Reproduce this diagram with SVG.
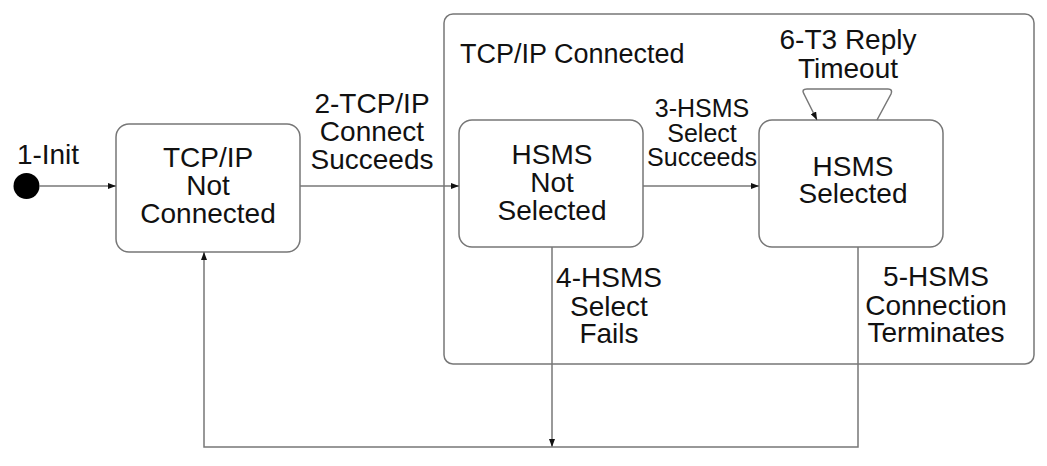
<svg xmlns="http://www.w3.org/2000/svg" width="1047" height="466" viewBox="0 0 1047 466">
<defs>
<marker id="ah" viewBox="0 0 8 6" refX="8" refY="3" markerWidth="8" markerHeight="6" markerUnits="userSpaceOnUse" orient="auto">
<path d="M0,0 L8,3 L0,6 Z" fill="#111"/>
</marker>
</defs>
<style>
.st{fill:#fff;stroke:#777;stroke-width:1.5}
.t{font-family:"Liberation Sans",Arial,sans-serif;font-size:28px;fill:#111;text-anchor:middle}
.s{font-size:25px}
.c{fill:none;stroke:#777;stroke-width:1.5}
</style>
<rect width="1047" height="466" fill="#fff"/>
<g id="composite-tcpip-connected">
<rect class="st" x="444" y="14" width="590" height="350" rx="9"/>
<text class="t" x="460" y="63" style="text-anchor:start;font-size:27px">TCP/IP Connected</text>
</g>
<g id="initial">
<circle cx="26.5" cy="186" r="13" fill="#000"/>
</g>
<g id="tcpip-not-connected">
<rect class="st" x="116" y="124" width="184" height="128" rx="13"/>
<text class="t" x="208" y="167">TCP/IP</text>
<text class="t" x="208" y="195">Not</text>
<text class="t" x="208" y="223">Connected</text>
</g>
<g id="hsms-not-selected">
<rect class="st" x="459" y="120" width="184" height="127" rx="13"/>
<text class="t" x="552" y="164">HSMS</text>
<text class="t" x="552" y="192">Not</text>
<text class="t" x="552" y="220">Selected</text>
</g>
<g id="hsms-selected">
<rect class="st" x="759" y="120" width="184" height="127" rx="13"/>
<text class="t" x="853" y="176">HSMS</text>
<text class="t" x="853" y="203">Selected</text>
</g>
<g id="connectors">
<line class="c" x1="39" y1="186" x2="116" y2="186" marker-end="url(#ah)"/>
<line class="c" x1="300" y1="186" x2="459" y2="186" marker-end="url(#ah)"/>
<line class="c" x1="643" y1="186" x2="759" y2="186" marker-end="url(#ah)"/>
<path class="c" d="M877,120 L891,94 Q893,89 888,89 L807,89 Q801,89 804,94 L817,120" marker-end="url(#ah)"/>
<line class="c" x1="552" y1="247" x2="552" y2="447" marker-end="url(#ah)"/>
<path class="c" d="M858,247 L858,447 L204,447 L204,252" marker-end="url(#ah)"/>
</g>
<g id="labels">
<text class="t" x="48" y="164">1-Init</text>
<text class="t" x="372" y="113">2-TCP/IP</text>
<text class="t" x="372" y="141">Connect</text>
<text class="t" x="372" y="169">Succeeds</text>
<text class="t s" x="702" y="117">3-HSMS</text>
<text class="t s" x="702" y="142">Select</text>
<text class="t s" x="702" y="166">Succeeds</text>
<text class="t" x="609" y="287">4-HSMS</text>
<text class="t" x="609" y="316">Select</text>
<text class="t" x="609" y="343">Fails</text>
<text class="t" x="936" y="286">5-HSMS</text>
<text class="t" x="936" y="315">Connection</text>
<text class="t" x="936" y="342">Terminates</text>
<text class="t" x="848" y="49">6-T3 Reply</text>
<text class="t" x="848" y="78">Timeout</text>
</g>
</svg>
